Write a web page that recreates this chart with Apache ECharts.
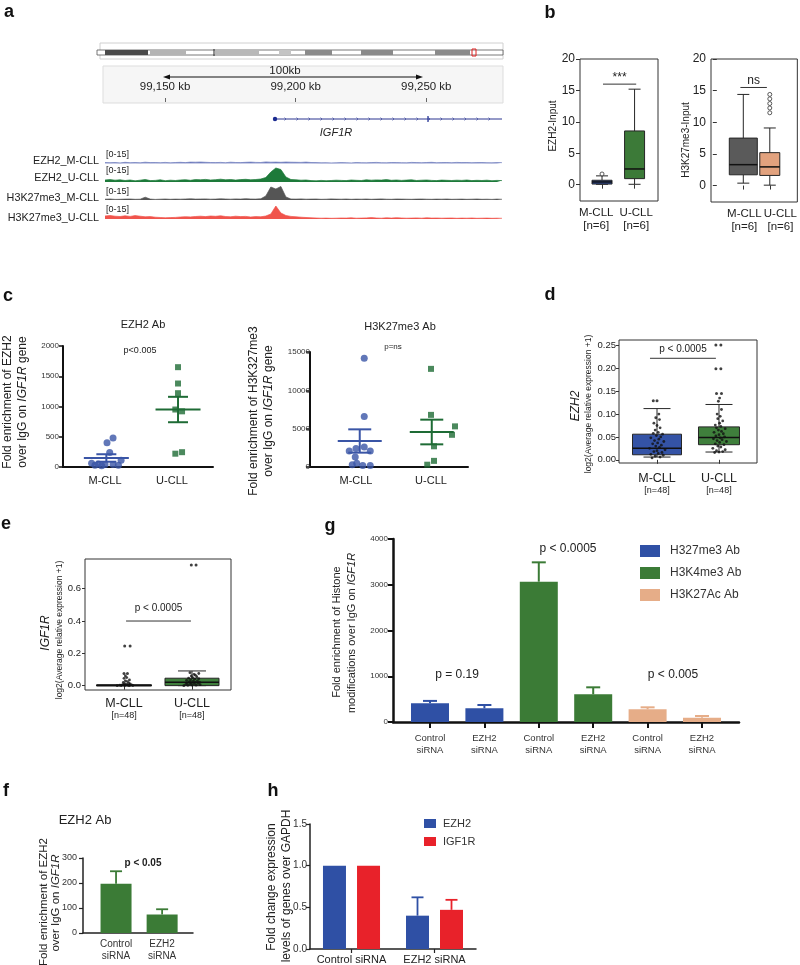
<!DOCTYPE html>
<html><head><meta charset="utf-8">
<script src="https://cdn.jsdelivr.net/npm/echarts@6/dist/echarts.min.js"></script>
<style>html,body{margin:0;padding:0;background:#fff}#c{width:800px;height:965px}</style>
</head><body><div id="c"></div>
<script>
// ---------------- DATA ----------------
// panel a : coverage tracks (0-15 scale), 80 bins across the locus
const trackNames = ['EZH2_M-CLL','EZH2_U-CLL','H3K27me3_M-CLL','H3K27me3_U-CLL'];
const trackEZH2M = [1,0.8,1,0.6,1.2,0.8,1,0.7,1.3,0.9, 1,0.8,1.1,0.7,1,1.2,0.9,1.4,1.3,1.5, 1.2,1,0.9,1.1,0.8,1.3,1,0.9,1.2,1.4, 1.1,1,1.6,1.3,1.4,1.2,1.5,1.3,1.2,1.1, 1.4,1,0.9,0.7,0.8,0.6,0.7,0.9,0.8,0.6, 1,0.8,0.7,0.9,1.1,0.8,0.7,1,0.9,0.8, 0.7,1.1,0.9,0.8,1,1.2,0.8,0.9,1,0.8, 1.1,0.9,1,0.8,0.9,1,0.8,0.7,0.9,0.8];
const trackEZH2U = [2,2.4,1.8,2.2,1.5,2,1.2,1.8,2.5,1.4, 1.6,2.2,1.3,1.8,1.5,2,2.3,1.7,2.4,2.2, 2.6,2,2.3,2.8,2.2,2.5,1.9,2.4,2.7,2.2, 2.5,3,4.5,10,14,12.5,5,2.5,2.2,1.8, 2,1.4,1.2,1.6,1.3,1.5,1.8,1.6,1.4,2, 1.7,1.5,2.2,1.8,2.1,1.9,2.4,1.7,2,1.6, 1.9,2.2,1.5,1.8,2,1.6,1.4,1.9,1.7,1.5, 1.8,1.6,2,1.4,1.7,1.5,1.8,1.3,1.6,1.4];
const trackH3M = [0.8,1,0.6,0.7,0.9,1,0.7,0.8,2.8,0.9, 0.6,0.8,1,0.7,0.9,0.8,1,1.2,0.9,1, 1.1,0.8,0.9,1.2,1,0.8,1.1,0.9,1.3,1, 0.9,1.2,4,13,11,13.5,3,1,0.9,1.1, 0.8,0.9,1,0.7,0.8,1.1,0.9,0.8,1,0.7, 0.9,0.8,1,0.7,0.9,1.1,0.8,0.7,1,0.9, 0.8,0.7,0.9,1,0.8,0.7,0.9,0.8,1,0.7, 0.8,0.9,0.7,0.8,1,0.7,0.8,0.6,0.9,0.7];
const trackH3U = [3,3.5,2.8,2.5,3.2,2.6,3.4,2.8,2.2,2.4, 1.8,1.5,1.2,1.4,1.6,2,2.3,2.1,2.5,2.8, 2.4,3,2.7,3.2,2.5,2.2,2.8,2.4,2.6,2, 2.4,2.2,3,5,13,6,3.5,2.6,2.2,1.8, 1.5,1.2,1,0.8,0.9,0.7,0.8,1,0.9,1.2, 0.8,0.9,1.1,1.4,1,0.8,1.2,0.9,1.3,1, 0.8,0.9,1.1,0.8,1.2,0.9,1,0.8,0.9,1, 0.7,0.9,0.8,1,0.7,0.8,0.9,0.7,0.8,0.7];
const rulerTicksKb = [99150, 99200, 99250];
const rulerRangeKb = [99127, 99279];

// panel b : boxplots [min, q1, median, q3, max]
const bGroups = ['M-CLL','U-CLL'];
const bN = ['[n=6]','[n=6]'];
const bTicks = [0,5,10,15,20];
const bEZH2Box = [[0.06,0.1,0.43,0.7,1.4],[0.06,0.96,2.5,8.55,15.2]];
const bEZH2Out = [[1,1.7]];
const bEZH2Sig = [[1.03,2.05,16.0]];
const bEZH2SigLabel = ['***'];
const bH3Box = [[0.38,1.7,3.3,7.5,14.4],[0.06,1.6,2.95,5.2,9.1]];
const bH3Out = [[2,11.5],[2,12.26],[2,12.96],[2,13.7],[2,14.4]];
const bH3Sig = [[0.89,1.89,15.5]];
const bH3SigLabel = ['ns'];
// label anchor positions (x) of the group names under each panel
const bEZH2LabelPos = [0.82, 2.05];
const bH3LabelPos = [1.04, 2.4];

// panel c : individual points [x position (jitter), value], mean & SEM
const cGroups = ['M-CLL','U-CLL'];
const cEZH2M = [[1.12,480],[1.03,400],[1.07,240],[1.24,110],[0.8,60],[0.9,50],[1.0,40],[1.12,40],[1.2,30],[0.85,30],[0.95,20]];
const cEZH2U = [[2.09,1650],[2.09,1380],[2.09,1220],[2.05,950],[2.15,920],[2.05,220],[2.15,245]];
const cEZH2MeanSem = [[1.02,149,62],[2.09,950,210]];
const cH3M = [[1.11,14200],[1.11,6600],[1.11,2600],[0.91,2100],[1.19,2100],[1.0,2400],[0.99,1300],[1.01,500],[1.09,200],[1.19,200],[0.95,300]];
const cH3U = [[2.0,12800],[2.0,6800],[2.32,5300],[2.28,4200],[2.04,2700],[2.04,800],[1.95,300]];
const cH3MeanSem = [[1.05,3391,1520],[2.01,4565,1610]];

// panel d : EZH2 expression
const dGroups = ['M-CLL','U-CLL'];
const dN = ['[n=48]','[n=48]'];
const dTicks = [0,0.05,0.10,0.15,0.20,0.25];
const dBox = [[0.006,0.011,0.025,0.056,0.112],[0.017,0.033,0.049,0.072,0.121]];
const dJitM = [[0.92,0.004],[1.05,0.006],[0.97,0.008],[1.1,0.01],[0.9,0.012],[1.02,0.014],[1.08,0.016],[0.95,0.018],[1.0,0.02],[1.13,0.022],[0.88,0.025],[1.04,0.027],[0.98,0.03],[1.07,0.032],[0.93,0.035],[1.01,0.037],[1.11,0.04],[0.96,0.042],[1.03,0.045],[0.9,0.048],[1.06,0.05],[0.99,0.053],[1.09,0.056],[0.94,0.058],[1.02,0.06],[0.97,0.065],[1.05,0.07],[1.0,0.075],[0.95,0.08],[1.04,0.088],[0.98,0.092],[1.03,0.1]];
const dJitU = [[1.93,0.016],[2.0,0.017],[2.06,0.018],[1.96,0.02],[2.1,0.022],[1.9,0.025],[2.03,0.028],[1.98,0.03],[2.08,0.033],[1.94,0.035],[2.01,0.038],[2.12,0.04],[1.97,0.042],[2.05,0.044],[1.91,0.046],[2.02,0.048],[2.09,0.05],[1.95,0.052],[2.0,0.055],[2.07,0.057],[1.92,0.06],[2.04,0.062],[1.99,0.065],[2.1,0.068],[1.96,0.07],[2.03,0.073],[1.94,0.076],[2.01,0.08],[2.06,0.085],[1.98,0.09],[2.02,0.095],[1.97,0.1],[2.04,0.11],[1.99,0.128],[2.01,0.135]];
const dOut = [[0.94,0.129],[1.0,0.129],[1.96,0.145],[2.04,0.145],[1.95,0.199],[2.03,0.199],[1.95,0.251],[2.03,0.251]];
const dSig = [[0.887,1.95,0.222]];
const dSigLabel = ['p < 0.0005'];

// panel e : IGF1R expression
const eTicks = [0,0.2,0.4,0.6];
const eBox = [[0.0,0.0,0.002,0.004,0.004],[0.0,0.0,0.021,0.046,0.091]];
const eJitM = [[0.9,0.0],[0.96,0.001],[1.02,0.002],[1.08,0.0],[1.13,0.001],[0.94,0.003],[1.0,0.004],[1.06,0.002],[1.11,0.005],[0.98,0.006],[1.04,0.008],[1.09,0.01],[1.01,0.012],[1.07,0.015],[0.99,0.02],[1.05,0.025],[1.02,0.03],[1.08,0.035],[1.0,0.045],[1.04,0.05],[1.02,0.06]];
const eJitU = [[1.88,0.0],[1.94,0.002],[2.0,0.004],[2.06,0.003],[2.12,0.006],[1.91,0.008],[1.97,0.01],[2.03,0.012],[2.09,0.014],[1.93,0.016],[1.99,0.018],[2.05,0.02],[2.11,0.022],[1.96,0.025],[2.02,0.028],[2.08,0.03],[1.92,0.033],[1.98,0.036],[2.04,0.04],[2.1,0.043],[1.95,0.046],[2.01,0.05],[2.07,0.055],[1.99,0.06],[2.05,0.065],[2.03,0.07],[2.1,0.075],[1.97,0.08]];
const eOut = [[1.0,0.075],[1.05,0.075],[1.01,0.245],[1.09,0.245],[1.99,0.747],[2.06,0.747]];
const eSig = [[1.03,1.985,0.4]];
const eSigLabel = ['p < 0.0005'];

// panel g : histone ChIP
const gCats = ['Control\nsiRNA','EZH2\nsiRNA','Control\nsiRNA','EZH2\nsiRNA','Control\nsiRNA','EZH2\nsiRNA'];
const gSeriesNames = ['H327me3 Ab','H3K4me3 Ab','H3K27Ac Ab'];
const gSeriesOf = [0,0,1,1,2,2];
const gValues = [409, 299, 3067, 605, 277, 94];
const gErr = [52, 72, 423, 153, 44, 37];

// panel f : EZH2 ChIP
const fCats = ['Control\nsiRNA','EZH2\nsiRNA'];
const fValues = [197, 74];
const fErr = [50, 21];

// panel h : expression after knockdown
const hCats = ['Control siRNA','EZH2 siRNA'];
const hSeriesNames = ['EZH2','IGF1R'];
const hEZH2 = [1.0, 0.40];
const hIGF1R = [1.0, 0.47];
const hEZH2Err = [0, 0.22];
const hIGF1RErr = [0, 0.12];

// ---------------- STYLE ----------------
const FONT = "'Liberation Sans', Arial, Helvetica, sans-serif";
const BLUE = '#2f50a5', GREEN = '#3b7b36', TAN = '#e6ad88', RED = '#e8222a', GRAY = '#5a5a5a';
const chart = echarts.init(document.getElementById('c'));
const plain = function (v) { return String(v); };

function txt(x, y, text, o) {
  o = o || {};
  const st = {text: text, fontSize: o.size || 11, fontFamily: FONT, fill: o.color || '#222',
    fontWeight: o.weight || 'normal', fontStyle: o.style || 'normal',
    align: o.align || 'center', verticalAlign: o.valign || 'middle',
    textAlign: o.align || 'center', textVerticalAlign: o.valign || 'middle'};
  if (o.rich) st.rich = o.rich;
  return {type: 'text', x: x, y: y, rotation: o.rot || 0, style: st, silent: true};
}
function ital(size) { return {i: {fontStyle: 'italic', fontSize: size, fontFamily: FONT, fill: '#222'}}; }

function boxRenderer(styles) {
  return function (params, api) {
    const s = styles[params.dataIndex];
    const x = api.value(0);
    const lo = api.coord([x, api.value(1)]), q1 = api.coord([x, api.value(2)]),
      md = api.coord([x, api.value(3)]), q3 = api.coord([x, api.value(4)]), hi = api.coord([x, api.value(5)]);
    const cx = lo[0], bw = s.box, cw = s.cap;
    const st = {stroke: '#262626', lineWidth: 1};
    return {type: 'group', children: [
      {type: 'line', shape: {x1: cx, y1: hi[1], x2: cx, y2: q3[1]}, style: st},
      {type: 'line', shape: {x1: cx, y1: q1[1], x2: cx, y2: lo[1]}, style: st},
      {type: 'line', shape: {x1: cx - cw / 2, y1: hi[1], x2: cx + cw / 2, y2: hi[1]}, style: st},
      {type: 'line', shape: {x1: cx - cw / 2, y1: lo[1], x2: cx + cw / 2, y2: lo[1]}, style: st},
      {type: 'rect', shape: {x: cx - bw / 2, y: q3[1], width: bw, height: Math.max(q1[1] - q3[1], 1)}, style: {fill: s.fill, stroke: '#262626', lineWidth: 1}},
      {type: 'line', shape: {x1: cx - bw / 2, y1: md[1], x2: cx + bw / 2, y2: md[1]}, style: {stroke: '#111', lineWidth: 1.5}}
    ]};
  };
}
function sigRenderer(labels, size, gap) {
  return function (params, api) {
    const y = api.value(2);
    const p1 = api.coord([api.value(0), y]), p2 = api.coord([api.value(1), y]);
    return {type: 'group', children: [
      {type: 'line', shape: {x1: p1[0], y1: p1[1], x2: p2[0], y2: p2[1]}, style: {stroke: '#333', lineWidth: 1}},
      {type: 'text', x: (p1[0] + p2[0]) / 2, y: p1[1] - gap, style: {text: labels[params.dataIndex], fontSize: size, fontFamily: FONT, fill: '#222', align: 'center', verticalAlign: 'bottom', textAlign: 'center', textVerticalAlign: 'bottom'}}
    ]};
  };
}
function meanSemRenderer(colors, mw, cw) {
  return function (params, api) {
    const x = api.value(0), m = api.value(1), s = api.value(2);
    const pm = api.coord([x, m]), pt = api.coord([x, m + s]), pb = api.coord([x, m - s]);
    const st = {stroke: colors[params.dataIndex], lineWidth: 2};
    return {type: 'group', children: [
      {type: 'line', shape: {x1: pm[0] - mw / 2, y1: pm[1], x2: pm[0] + mw / 2, y2: pm[1]}, style: st},
      {type: 'line', shape: {x1: pm[0], y1: pt[1], x2: pm[0], y2: pb[1]}, style: st},
      {type: 'line', shape: {x1: pm[0] - cw / 2, y1: pt[1], x2: pm[0] + cw / 2, y2: pt[1]}, style: st},
      {type: 'line', shape: {x1: pm[0] - cw / 2, y1: pb[1], x2: pm[0] + cw / 2, y2: pb[1]}, style: st}
    ]};
  };
}
function errRenderer(colors, cw, lw, offset) {
  return function (params, api) {
    const x = api.value(0), v = api.value(1), e = api.value(2);
    if (!e) return {type: 'group', children: []};
    const p0 = api.coord([x, v]), p1 = api.coord([x, v + e]);
    const cx = p0[0] + (offset || 0);
    const st = {stroke: colors[params.dataIndex], lineWidth: lw};
    return {type: 'group', children: [
      {type: 'line', shape: {x1: cx, y1: p0[1], x2: cx, y2: p1[1]}, style: st},
      {type: 'line', shape: {x1: cx - cw / 2, y1: p1[1], x2: cx + cw / 2, y2: p1[1]}, style: st}
    ]};
  };
}

// ---------------- AXES ----------------
const grids = [], xAxes = [], yAxes = [], series = [];
const noSplit = {show: false};
const LBL = {hideOverlap: false, showMinLabel: true, showMaxLabel: true};
function lbl(o) { return Object.assign({}, LBL, o); }
// tracks 0..3
const trackData = [trackEZH2M, trackEZH2U, trackH3M, trackH3U];
const trackColors = ['#6f7cbd', '#1d7a3a', '#555555', '#f0544c'];
const trackTops = [148.5, 167, 185, 204];
trackData.forEach(function (d, i) {
  grids.push({left: 105, top: trackTops[i], width: 397, height: 15});
  xAxes.push({gridIndex: i, type: 'category', data: d.map(function (_, k) { return k; }), show: false, boundaryGap: false});
  yAxes.push({gridIndex: i, type: 'value', min: 0, max: 15, show: false});
  series.push({type: 'line', xAxisIndex: i, yAxisIndex: i, data: d, symbol: 'none', silent: true,
    lineStyle: {width: 0.7, color: trackColors[i]}, areaStyle: {color: trackColors[i], opacity: 1}});
});
// ruler 4
grids.push({left: 105, top: 94, width: 397, height: 4});
xAxes.push({gridIndex: 4, type: 'value', position: 'top', min: rulerRangeKb[0], max: rulerRangeKb[1],
  axisLine: {show: false}, splitLine: noSplit,
  axisTick: {show: true, inside: true, length: 4, customValues: rulerTicksKb, lineStyle: {color: '#666'}},
  axisLabel: lbl({customValues: rulerTicksKb, margin: 1, fontSize: 11.5, color: '#222', fontFamily: FONT,
    formatter: function (v) { return v.toLocaleString('en-US') + ' kb'; }})});
yAxes.push({gridIndex: 4, type: 'value', show: false});
series.push({type: 'scatter', xAxisIndex: 4, yAxisIndex: 4, data: []});

function catLabelFmt(names, ns, pos) {
  return function (v) {
    let i = 0, best = Infinity;
    pos.forEach(function (p, k) { if (Math.abs(p - v) < best) { best = Math.abs(p - v); i = k; } });
    return '{a|' + names[i] + '}\n{b|' + ns[i] + '}';
  };
}
// b left 5, b right 6
[[580, 78, 142, 0.323, 2.72, bEZH2LabelPos], [711, 88, 143, -0.22, 3.04, bH3LabelPos]].forEach(function (g, k) {
  const gi = 5 + k;
  grids.push({left: g[0], top: 59, width: g[1], height: g[2], show: true, borderColor: '#333', borderWidth: 1});
  xAxes.push({gridIndex: gi, type: 'value', min: g[3], max: g[4], splitLine: noSplit, axisLine: {show: false},
    axisTick: {show: true, length: 4, customValues: [1, 2], lineStyle: {color: '#333'}},
    axisLabel: lbl({customValues: g[5], margin: 5, formatter: catLabelFmt(bGroups, bN, g[5]),
      rich: {a: {fontSize: 11.5, fontFamily: FONT, color: '#222', lineHeight: 13}, b: {fontSize: 11.5, fontFamily: FONT, color: '#222', lineHeight: 13}}})});
  yAxes.push({gridIndex: gi, type: 'value', min: -2.6, max: 20, splitLine: noSplit, axisLine: {show: false},
    axisTick: {show: true, length: 4, customValues: bTicks, lineStyle: {color: '#333'}},
    axisLabel: lbl({customValues: bTicks, fontSize: 12, color: '#222', fontFamily: FONT, margin: 5})});
});
// c left 7, c right 8
[[63, 346, 150, 121, 0.373, 2.612, 2000, 500, 4], [310, 352, 158, 115, 0.387, 2.493, 15000, 5000, 0]].forEach(function (g, k) {
  const gi = 7 + k;
  grids.push({left: g[0], top: g[1], width: g[2], height: g[3]});
  xAxes.push({gridIndex: gi, type: 'value', min: g[4], max: g[5], splitLine: noSplit,
    axisLine: {show: true, lineStyle: {color: '#111', width: 2}}, axisTick: {show: false},
    axisLabel: lbl({customValues: [1, 2], margin: 8, fontSize: 11, color: '#222', fontFamily: FONT,
      formatter: function (v) { return cGroups[Math.round(v) - 1]; }})});
  yAxes.push({gridIndex: gi, type: 'value', min: 0, max: g[6], interval: g[7], splitLine: noSplit,
    axisLine: {show: true, lineStyle: {color: '#111', width: 2}},
    axisTick: {show: true, length: 4, lineStyle: {color: '#111', width: 1.5}},
    axisLabel: lbl({fontSize: 8, color: '#333', fontFamily: FONT, margin: g[8], formatter: plain})});
});
// d 9
grids.push({left: 619, top: 340, width: 138, height: 123, show: true, borderColor: '#333', borderWidth: 1});
xAxes.push({gridIndex: 9, type: 'value', min: 0.387, max: 2.613, splitLine: noSplit, axisLine: {show: false},
  axisTick: {show: true, length: 4, customValues: [1, 2], lineStyle: {color: '#333'}},
  axisLabel: lbl({customValues: [1, 2], margin: 9, formatter: catLabelFmt(dGroups, dN, [1, 2]),
    rich: {a: {fontSize: 12.5, fontFamily: FONT, color: '#222', lineHeight: 13}, b: {fontSize: 9, fontFamily: FONT, color: '#222', lineHeight: 12}}})});
yAxes.push({gridIndex: 9, type: 'value', min: -0.007, max: 0.262, splitLine: noSplit, axisLine: {show: false},
  axisTick: {show: true, length: 3, customValues: dTicks, lineStyle: {color: '#333'}},
  axisLabel: lbl({customValues: dTicks, fontSize: 9.5, color: '#222', fontFamily: FONT, margin: 3,
    formatter: function (v) { return v.toFixed(2); }})});
// e 10
grids.push({left: 85, top: 559, width: 146, height: 131, show: true, borderColor: '#333', borderWidth: 1});
xAxes.push({gridIndex: 10, type: 'value', min: 0.426, max: 2.574, splitLine: noSplit, axisLine: {show: false},
  axisTick: {show: true, length: 4, customValues: [1, 2], lineStyle: {color: '#333'}},
  axisLabel: lbl({customValues: [1, 2], margin: 7, formatter: catLabelFmt(dGroups, dN, [1, 2]),
    rich: {a: {fontSize: 12.5, fontFamily: FONT, color: '#222', lineHeight: 13}, b: {fontSize: 9, fontFamily: FONT, color: '#222', lineHeight: 12}}})});
yAxes.push({gridIndex: 10, type: 'value', min: -0.027, max: 0.784, splitLine: noSplit, axisLine: {show: false},
  axisTick: {show: true, length: 3, customValues: eTicks, lineStyle: {color: '#333'}},
  axisLabel: lbl({customValues: eTicks, fontSize: 9.5, color: '#222', fontFamily: FONT, margin: 4,
    formatter: function (v) { return v.toFixed(1); }})});
// g 11
grids.push({left: 393, top: 539, width: 346, height: 183});
xAxes.push({gridIndex: 11, type: 'value', min: 0.32, max: 6.68, splitLine: noSplit,
  axisLine: {show: true, lineStyle: {color: '#111', width: 2.5}},
  axisTick: {show: true, length: 6, customValues: [1, 2, 3, 4, 5, 6], lineStyle: {color: '#111', width: 2}},
  axisLabel: lbl({customValues: [1, 2, 3, 4, 5, 6], margin: 10, fontSize: 9.5, lineHeight: 12, color: '#333', fontFamily: FONT,
    formatter: function (v) { return gCats[Math.round(v) - 1]; }})});
yAxes.push({gridIndex: 11, type: 'value', min: 0, max: 4000, interval: 1000, splitLine: noSplit,
  axisLine: {show: true, lineStyle: {color: '#111', width: 2.5}},
  axisTick: {show: true, length: 5, lineStyle: {color: '#111', width: 2}},
  axisLabel: lbl({fontSize: 8, color: '#333', fontFamily: FONT, margin: 5, formatter: plain})});
// f 12
grids.push({left: 83, top: 858, width: 110, height: 75});
xAxes.push({gridIndex: 12, type: 'value', min: 0.283, max: 2.67, splitLine: noSplit,
  axisLine: {show: true, lineStyle: {color: '#222', width: 1.5}}, axisTick: {show: false},
  axisLabel: lbl({customValues: [1, 2], margin: 5, fontSize: 10, lineHeight: 12, color: '#333', fontFamily: FONT,
    formatter: function (v) { return fCats[Math.round(v) - 1]; }})});
yAxes.push({gridIndex: 12, type: 'value', min: 0, max: 300, interval: 100, splitLine: noSplit,
  axisLine: {show: true, lineStyle: {color: '#222', width: 1.5}},
  axisTick: {show: true, length: 4, lineStyle: {color: '#222', width: 1.2}},
  axisLabel: lbl({fontSize: 9, color: '#333', fontFamily: FONT, margin: 6, formatter: plain})});
// h 13
grids.push({left: 310, top: 824, width: 166, height: 126});
xAxes.push({gridIndex: 13, type: 'category', data: hCats,
  axisLine: {show: true, lineStyle: {color: '#222', width: 1.5}},
  axisTick: {show: true, alignWithLabel: true, length: 4, lineStyle: {color: '#222', width: 1.2}},
  axisLabel: lbl({fontSize: 11, color: '#222', fontFamily: FONT, margin: 5, interval: 0})});
yAxes.push({gridIndex: 13, type: 'value', min: 0, max: 1.5, interval: 0.5, splitLine: noSplit,
  axisLine: {show: true, lineStyle: {color: '#222', width: 1.5}},
  axisTick: {show: true, length: 4, lineStyle: {color: '#222', width: 1.2}},
  axisLabel: lbl({fontSize: 10, color: '#333', fontFamily: FONT, margin: 3, formatter: function (v) { return v.toFixed(1); }})});

// ---------------- SERIES ----------------
function boxData(boxes) { return boxes.map(function (b, i) { return [i + 1].concat(b); }); }
function customOn(gi, data, render, enc) {
  return {type: 'custom', xAxisIndex: gi, yAxisIndex: gi, data: data, renderItem: render, silent: true,
    encode: enc || {x: 0, y: [1, 2, 3, 4, 5]}};
}
// b
series.push(customOn(5, boxData(bEZH2Box), boxRenderer([{box: 20, cap: 12, fill: '#2b4a9b'}, {box: 20, cap: 12, fill: '#3c7a38'}])));
series.push({type: 'scatter', xAxisIndex: 5, yAxisIndex: 5, data: bEZH2Out, symbol: 'circle', symbolSize: 4,
  itemStyle: {color: '#fff', borderColor: '#333', borderWidth: 1}, silent: true});
series.push(customOn(5, bEZH2Sig, sigRenderer(bEZH2SigLabel, 12, 0), {x: [0, 1], y: 2}));
series.push(customOn(6, boxData(bH3Box), boxRenderer([{box: 28, cap: 12, fill: GRAY}, {box: 20, cap: 12, fill: '#e2a27e'}])));
series.push({type: 'scatter', xAxisIndex: 6, yAxisIndex: 6, data: bH3Out, symbol: 'circle', symbolSize: 4,
  itemStyle: {color: '#fff', borderColor: '#333', borderWidth: 1}, silent: true});
series.push(customOn(6, bH3Sig, sigRenderer(bH3SigLabel, 12, 1), {x: [0, 1], y: 2}));
// c
series.push({type: 'scatter', xAxisIndex: 7, yAxisIndex: 7, data: cEZH2M, symbol: 'circle', symbolSize: 7, itemStyle: {color: '#3a55a6'}, silent: true});
series.push({type: 'scatter', xAxisIndex: 7, yAxisIndex: 7, data: cEZH2U, symbol: 'rect', symbolSize: 6, itemStyle: {color: '#1e6b35'}, silent: true});
series.push(customOn(7, cEZH2MeanSem, meanSemRenderer(['#3a55a6', '#1e6b35'], 45, 20), {x: 0, y: 1}));
series.push({type: 'scatter', xAxisIndex: 8, yAxisIndex: 8, data: cH3M, symbol: 'circle', symbolSize: 7, itemStyle: {color: '#3a55a6'}, silent: true});
series.push({type: 'scatter', xAxisIndex: 8, yAxisIndex: 8, data: cH3U, symbol: 'rect', symbolSize: 6, itemStyle: {color: '#1e6b35'}, silent: true});
series.push(customOn(8, cH3MeanSem, meanSemRenderer(['#3a55a6', '#1e6b35'], 44, 23), {x: 0, y: 1}));
// d
series.push(customOn(9, boxData(dBox), boxRenderer([{box: 49, cap: 27, fill: '#3453a6'}, {box: 41, cap: 27, fill: '#3f7f3c'}])));
series.push({type: 'scatter', xAxisIndex: 9, yAxisIndex: 9, data: dJitM.concat(dJitU), symbolSize: 2.8, itemStyle: {color: '#111'}, silent: true});
series.push({type: 'scatter', xAxisIndex: 9, yAxisIndex: 9, data: dOut, symbolSize: 3, itemStyle: {color: '#111'}, silent: true});
series.push(customOn(9, dSig, sigRenderer(dSigLabel, 10, 4), {x: [0, 1], y: 2}));
// e
series.push(customOn(10, boxData(eBox), boxRenderer([{box: 55, cap: 55, fill: '#333'}, {box: 54, cap: 28, fill: '#3f7f3c'}])));
series.push({type: 'scatter', xAxisIndex: 10, yAxisIndex: 10, data: eJitM.concat(eJitU), symbolSize: 2.8, itemStyle: {color: '#111'}, silent: true});
series.push({type: 'scatter', xAxisIndex: 10, yAxisIndex: 10, data: eOut, symbolSize: 3, itemStyle: {color: '#111'}, silent: true});
series.push(customOn(10, eSig, sigRenderer(eSigLabel, 10, 8), {x: [0, 1], y: 2}));
// g
const gColors = [BLUE, GREEN, TAN];
gSeriesNames.forEach(function (name, s) {
  const d = [];
  gValues.forEach(function (v, i) { if (gSeriesOf[i] === s) d.push([i + 1, v]); });
  series.push({type: 'bar', name: name, xAxisIndex: 11, yAxisIndex: 11, data: d, barWidth: 38, barGap: '-100%',
    itemStyle: {color: gColors[s]}, silent: true});
});
series.push(customOn(11, gValues.map(function (v, i) { return [i + 1, v, gErr[i]]; }),
  errRenderer(gSeriesOf.map(function (s) { return gColors[s]; }), 14, 2), {x: 0, y: [1, 2]}));
// f
series.push({type: 'bar', xAxisIndex: 12, yAxisIndex: 12, data: fValues.map(function (v, i) { return [i + 1, v]; }),
  barWidth: 31, itemStyle: {color: GREEN}, silent: true});
series.push(customOn(12, fValues.map(function (v, i) { return [i + 1, v, fErr[i]]; }), errRenderer([GREEN, GREEN], 12, 1.8), {x: 0, y: [1, 2]}));
// h
series.push({type: 'bar', name: hSeriesNames[0], xAxisIndex: 13, yAxisIndex: 13, data: hEZH2, barWidth: 23, barGap: '48%', itemStyle: {color: BLUE}, silent: true});
series.push({type: 'bar', name: hSeriesNames[1], xAxisIndex: 13, yAxisIndex: 13, data: hIGF1R, barWidth: 23, barGap: '48%', itemStyle: {color: RED}, silent: true});
series.push(customOn(13, hEZH2.map(function (v, i) { return [i, v, hEZH2Err[i]]; }), errRenderer([BLUE, BLUE], 12, 1.8, -17), {x: 0, y: [1, 2]}));
series.push(customOn(13, hIGF1R.map(function (v, i) { return [i, v, hIGF1RErr[i]]; }), errRenderer([RED, RED], 12, 1.8, 17), {x: 0, y: [1, 2]}));

// ---------------- GRAPHIC (annotations) ----------------
const G = [];
// panel letters
[['a', 9, 12], ['b', 550, 13], ['c', 8, 296], ['d', 550, 295], ['e', 6, 524], ['g', 330, 526], ['f', 6, 791], ['h', 273, 791]].forEach(function (l) {
  G.push(txt(l[1], l[2], l[0], {size: 18, weight: 'bold', color: '#111'}));
});
// panel a decorations
G.push({type: 'rect', shape: {x: 100, y: 43, width: 403, height: 16}, style: {fill: '#fff', stroke: '#d0d0d0', lineWidth: 1}, silent: true});
G.push({type: 'rect', shape: {x: 103, y: 66, width: 400, height: 37}, style: {fill: '#f6f6f6', stroke: '#dddddd', lineWidth: 1}, silent: true, z: -1});
const bands = [[105, 148, '#4a4a4a'], [150, 186, '#b4b4b4'], [215, 259, '#b8b8b8'], [279, 291, '#c4c4c4'], [305, 332, '#8a8a8a'], [361, 393, '#8a8a8a'], [435, 470, '#8a8a8a']];
G.push({type: 'rect', shape: {x: 97, y: 50, width: 406, height: 5}, style: {fill: '#fff', stroke: '#555', lineWidth: 0.8}, silent: true});
bands.forEach(function (b) { G.push({type: 'rect', shape: {x: b[0], y: 50, width: b[1] - b[0], height: 5}, style: {fill: b[2]}, silent: true}); });
G.push({type: 'line', shape: {x1: 214, y1: 49, x2: 214, y2: 56}, style: {stroke: '#222', lineWidth: 1}, silent: true});
G.push({type: 'rect', shape: {x: 472, y: 49, width: 4, height: 7}, style: {fill: 'none', stroke: '#e02020', lineWidth: 1}, silent: true});
G.push({type: 'line', shape: {x1: 168, y1: 77, x2: 418, y2: 77}, style: {stroke: '#111', lineWidth: 1}, silent: true});
G.push({type: 'polygon', shape: {points: [[163, 77], [170, 74.5], [170, 79.5]]}, style: {fill: '#111'}, silent: true});
G.push({type: 'polygon', shape: {points: [[423, 77], [416, 74.5], [416, 79.5]]}, style: {fill: '#111'}, silent: true});
G.push(txt(285, 71, '100kb', {size: 11.5}));
G.push({type: 'line', shape: {x1: 274, y1: 119, x2: 502, y2: 119}, style: {stroke: '#2a3590', lineWidth: 1}, silent: true});
for (let gx = 286; gx < 500; gx += 12) {
  G.push({type: 'polyline', shape: {points: [[gx - 1.5, 117.5], [gx, 119], [gx - 1.5, 120.5]]}, style: {stroke: '#2a3590', lineWidth: 0.6, fill: 'none'}, silent: true});
}
G.push({type: 'circle', shape: {cx: 275, cy: 119, r: 2.2}, style: {fill: '#1a2a90'}, silent: true});
G.push({type: 'line', shape: {x1: 428, y1: 116, x2: 428, y2: 122}, style: {stroke: '#1a2a90', lineWidth: 1.2}, silent: true});
G.push(txt(336, 133, 'IGF1R', {size: 11, style: 'italic'}));
[161.5, 178.5, 198.5, 218.5].forEach(function (y, i) { G.push(txt(99, y, trackNames[i], {size: 10.8, align: 'right'})); });
[154.5, 171, 192, 209.5].forEach(function (y) { G.push(txt(106, y, '[0-15]', {size: 9, align: 'left'})); });
// panel b
G.push(txt(553, 126, 'EZH2-Input', {size: 10, rot: Math.PI / 2}));
G.push(txt(686, 140, 'H3K27me3-Input', {size: 10, rot: Math.PI / 2}));
// panel c
G.push(txt(143, 325, 'EZH2 Ab', {size: 11}));
G.push(txt(140, 351, 'p<0.005', {size: 9}));
G.push(txt(400, 327, 'H3K27me3 Ab', {size: 11}));
G.push(txt(393, 347, 'p=ns', {size: 8}));
G.push(txt(8, 402, 'Fold enrichment of EZH2', {size: 12, rot: Math.PI / 2}));
G.push(txt(23, 402, 'over IgG on {i|IGF1R} gene', {size: 12, rot: Math.PI / 2, rich: ital(12)}));
G.push(txt(254, 411, 'Fold enrichment of H3K327me3', {size: 12, rot: Math.PI / 2}));
G.push(txt(269, 411, 'over IgG on {i|IGF1R} gene', {size: 12, rot: Math.PI / 2, rich: ital(12)}));
// panel d
G.push(txt(576, 406, 'EZH2', {size: 12, style: 'italic', rot: Math.PI / 2}));
G.push(txt(589, 404, 'log2(Average relative expression +1)', {size: 8.5, rot: Math.PI / 2}));
// panel e
G.push(txt(46, 633, 'IGF1R', {size: 12, style: 'italic', rot: Math.PI / 2}));
G.push(txt(60, 630, 'log2(Average relative expression +1)', {size: 8.5, rot: Math.PI / 2}));
// panel g
G.push(txt(337, 632, 'Fold enrichment of Histone', {size: 11, rot: Math.PI / 2}));
G.push(txt(352, 633, 'modifications over IgG on {i|IGF1R}', {size: 11, rot: Math.PI / 2, rich: ital(11)}));
G.push(txt(568, 549, 'p < 0.0005', {size: 12}));
G.push(txt(457, 675, 'p = 0.19', {size: 12}));
G.push(txt(673, 675, 'p < 0.005', {size: 12}));
// panel f
G.push(txt(85, 820, 'EZH2 Ab', {size: 13}));
G.push(txt(143, 863, 'p < 0.05', {size: 10, weight: 'bold'}));
G.push(txt(44, 902, 'Fold enrichment of EZH2', {size: 11.5, rot: Math.PI / 2}));
G.push(txt(56, 903, 'over IgG on {i|IGF1R}', {size: 11.5, rot: Math.PI / 2, rich: ital(11.5)}));
// panel h
G.push(txt(272, 887, 'Fold change expression', {size: 12, rot: Math.PI / 2}));
G.push(txt(287, 886, 'levels of genes over GAPDH', {size: 12, rot: Math.PI / 2}));

chart.setOption({
  animation: false,
  backgroundColor: '#fff',
  textStyle: {fontFamily: FONT},
  grid: grids, xAxis: xAxes, yAxis: yAxes, series: series,
  legend: [
    {data: gSeriesNames, left: 640, top: 545, orient: 'vertical', icon: 'rect', itemWidth: 20, itemHeight: 12, itemGap: 10,
      padding: 0, selectedMode: false, textStyle: {fontSize: 12, color: '#333', fontFamily: FONT, padding: [0, 0, 0, 5]}},
    {data: hSeriesNames, left: 424, top: 818, orient: 'vertical', icon: 'rect', itemWidth: 12, itemHeight: 9, itemGap: 7,
      padding: 0, selectedMode: false, textStyle: {fontSize: 11, color: '#333', fontFamily: FONT, padding: [0, 0, 0, 2]}}
  ],
  graphic: G
});
</script>
</body></html>
